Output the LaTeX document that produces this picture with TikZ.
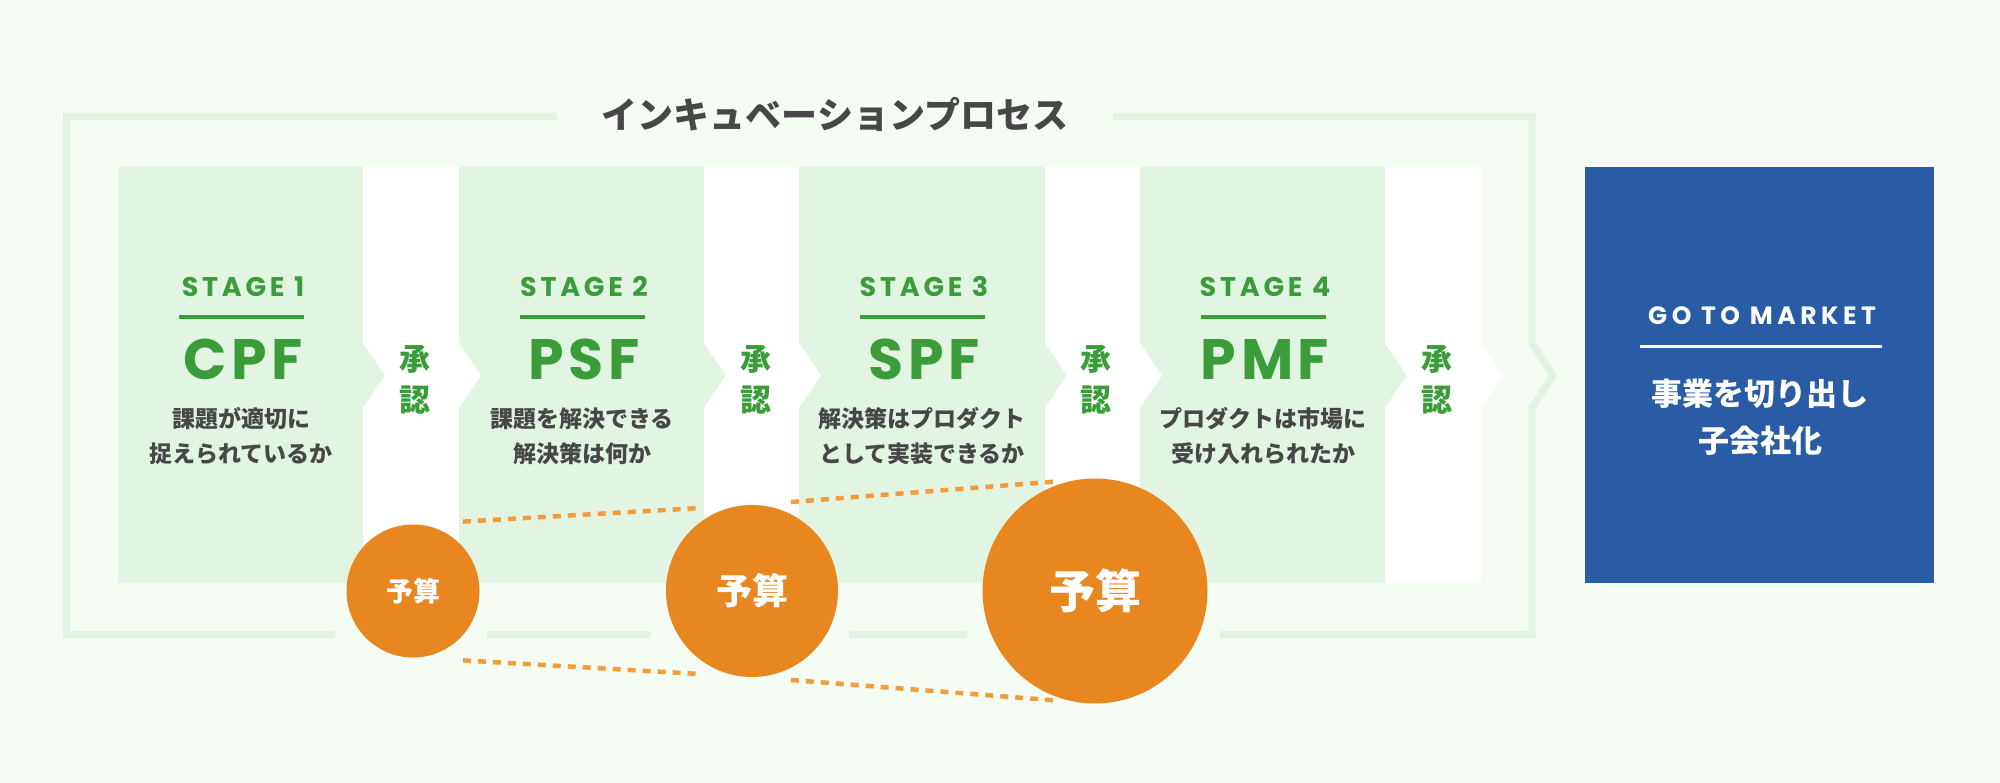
\documentclass[tikz,border=0pt]{standalone}
\usepackage{fontspec}
\setmainfont{Noto Sans CJK JP}
\newfontfamily\latinfont{Poppins}

\definecolor{bgmint}{HTML}{F5FCF3}
\definecolor{boxgreen}{HTML}{E2F4E2}
\definecolor{framegreen}{HTML}{E2F4E1}
\definecolor{stagegreen}{HTML}{3B9D3A}
\definecolor{inkgray}{HTML}{474747}
\definecolor{budgetorange}{HTML}{E8861F}
\definecolor{dashorange}{HTML}{F49B3A}
\definecolor{marketblue}{HTML}{2A5CA6}

\tikzset{
  titletext/.style={font=\bfseries\fontsize{36}{36}\selectfont, text=inkgray},
  stagename/.style={font=\latinfont\bfseries\fontsize{27}{27}\selectfont\addfontfeatures{LetterSpace=14}, text=stagegreen},
  stageabbr/.style={font=\latinfont\bfseries\fontsize{57}{57}\selectfont\addfontfeatures{LetterSpace=8}, text=stagegreen},
  stagetext/.style={font=\bfseries\fontsize{23}{35}\selectfont, text=inkgray, align=center},
  stagerule/.style={stagegreen, line width=4pt},
  approval/.style={font=\bfseries\fontsize{31}{41}\selectfont, text=stagegreen, align=center},
  budget/.style={circle, fill=budgetorange, inner sep=0pt, outer sep=0pt, text=white},
  budgetline/.style={dashorange, line width=4.5pt, dash pattern=on 8pt off 7pt},
  markettitle/.style={font=\latinfont\bfseries\fontsize{25}{25}\selectfont\addfontfeatures{LetterSpace=18}, text=white},
  marketgoal/.style={font=\bfseries\fontsize{31}{47}\selectfont, text=white, align=center}
}

\begin{document}
\begin{tikzpicture}[x=1pt,y=-1pt]
\fill[bgmint] (0,0) rectangle (2000,783);

\draw[framegreen,line width=7pt]
  (557,116.5) -- (66.5,116.5) -- (66.5,634.5) -- (335,634.5)
  (487,634.5) -- (650,634.5)
  (849,634.5) -- (967,634.5)
  (1220,634.5) -- (1532,634.5) -- (1532,408) -- (1553,375.5) -- (1532,343) -- (1532,116.5) -- (1113,116.5);

\node[titletext] (title) at (835,114) {インキュベーションプロセス};

\fill[boxgreen] (118,167) -- (363,167) -- (363,343) -- (385,375.5) -- (363,408) -- (363,583) -- (118,583) -- cycle;
\fill[boxgreen] (459,167) -- (704,167) -- (704,343) -- (726,375.5) -- (704,408) -- (704,583) -- (459,583) -- cycle;
\fill[boxgreen] (799,167) -- (1045,167) -- (1045,343) -- (1067,375.5) -- (1045,408) -- (1045,583) -- (799,583) -- cycle;
\fill[boxgreen] (1140,167) -- (1385,167) -- (1385,343) -- (1407,375.5) -- (1385,408) -- (1385,583) -- (1140,583) -- cycle;

\fill[white] (363,167) -- (459,167) -- (459,343) -- (481,375.5) -- (459,408) -- (459,583) -- (363,583) -- (363,408) -- (385,375.5) -- (363,343) -- cycle;
\fill[white] (704,167) -- (799,167) -- (799,343) -- (821,375.5) -- (799,408) -- (799,583) -- (704,583) -- (704,408) -- (726,375.5) -- (704,343) -- cycle;
\fill[white] (1045,167) -- (1140,167) -- (1140,343) -- (1162,375.5) -- (1140,408) -- (1140,583) -- (1045,583) -- (1045,408) -- (1067,375.5) -- (1045,343) -- cycle;
\fill[white] (1385,167) -- (1481,167) -- (1481,343) -- (1503,375.5) -- (1481,408) -- (1481,583) -- (1385,583) -- (1385,408) -- (1407,375.5) -- (1385,343) -- cycle;

\node[stagename] (st1) at (243,287) {STAGE 1};
\draw[stagerule] (179,317) -- (304,317);
\node[stageabbr] (cpf) at (243,359) {CPF};
\node[stagetext] (q1) at (241,436) {課題が適切に\\捉えられているか};

\node[stagename] (st2) at (584,287) {STAGE 2};
\draw[stagerule] (520,317) -- (645,317);
\node[stageabbr] (psf) at (584,359) {PSF};
\node[stagetext] (q2) at (582,436) {課題を解決できる\\解決策は何か};

\node[stagename] (st3) at (924,287) {STAGE 3};
\draw[stagerule] (860,317) -- (985,317);
\node[stageabbr] (spf) at (924,359) {SPF};
\node[stagetext] (q3) at (922,436) {解決策はプロダクト\\として実装できるか};

\node[stagename] (st4) at (1265,287) {STAGE 4};
\draw[stagerule] (1201,317) -- (1326,317);
\node[stageabbr] (pmf) at (1265,359) {PMF};
\node[stagetext] (q4) at (1263,436) {プロダクトは市場に\\受け入れられたか};

\node[approval] (ok1) at (415,380) {承\\認};
\node[approval] (ok2) at (756,380) {承\\認};
\node[approval] (ok3) at (1096,380) {承\\認};
\node[approval] (ok4) at (1437,380) {承\\認};

\node[budget,minimum size=133pt,font=\bfseries\fontsize{27}{27}\selectfont] (b1) at (413,591) {予算};
\node[budget,minimum size=172pt,font=\bfseries\fontsize{36}{36}\selectfont] (b2) at (752,591) {予算};
\node[budget,minimum size=225pt,font=\bfseries\fontsize{46}{46}\selectfont] (b3) at (1095,591) {予算};

\draw[budgetline,shorten <=50pt,shorten >=50pt] (b1.north) -- (b2.north);
\draw[budgetline,shorten <=50pt,shorten >=50pt] (b1.south) -- (b2.south);
\draw[budgetline,shorten <=39pt,shorten >=39pt] (b2.north) -- (b3.north);
\draw[budgetline,shorten <=39pt,shorten >=39pt] (b2.south) -- (b3.south);

\fill[marketblue] (1585,167) rectangle (1934,583);
\node[markettitle] (gtm) at (1762,316) {GO TO MARKET};
\draw[white,line width=3pt] (1640,347) -- (1882,347);
\node[marketgoal] (goal) at (1760,417) {事業を切り出し\\子会社化};
\end{tikzpicture}
\end{document}
